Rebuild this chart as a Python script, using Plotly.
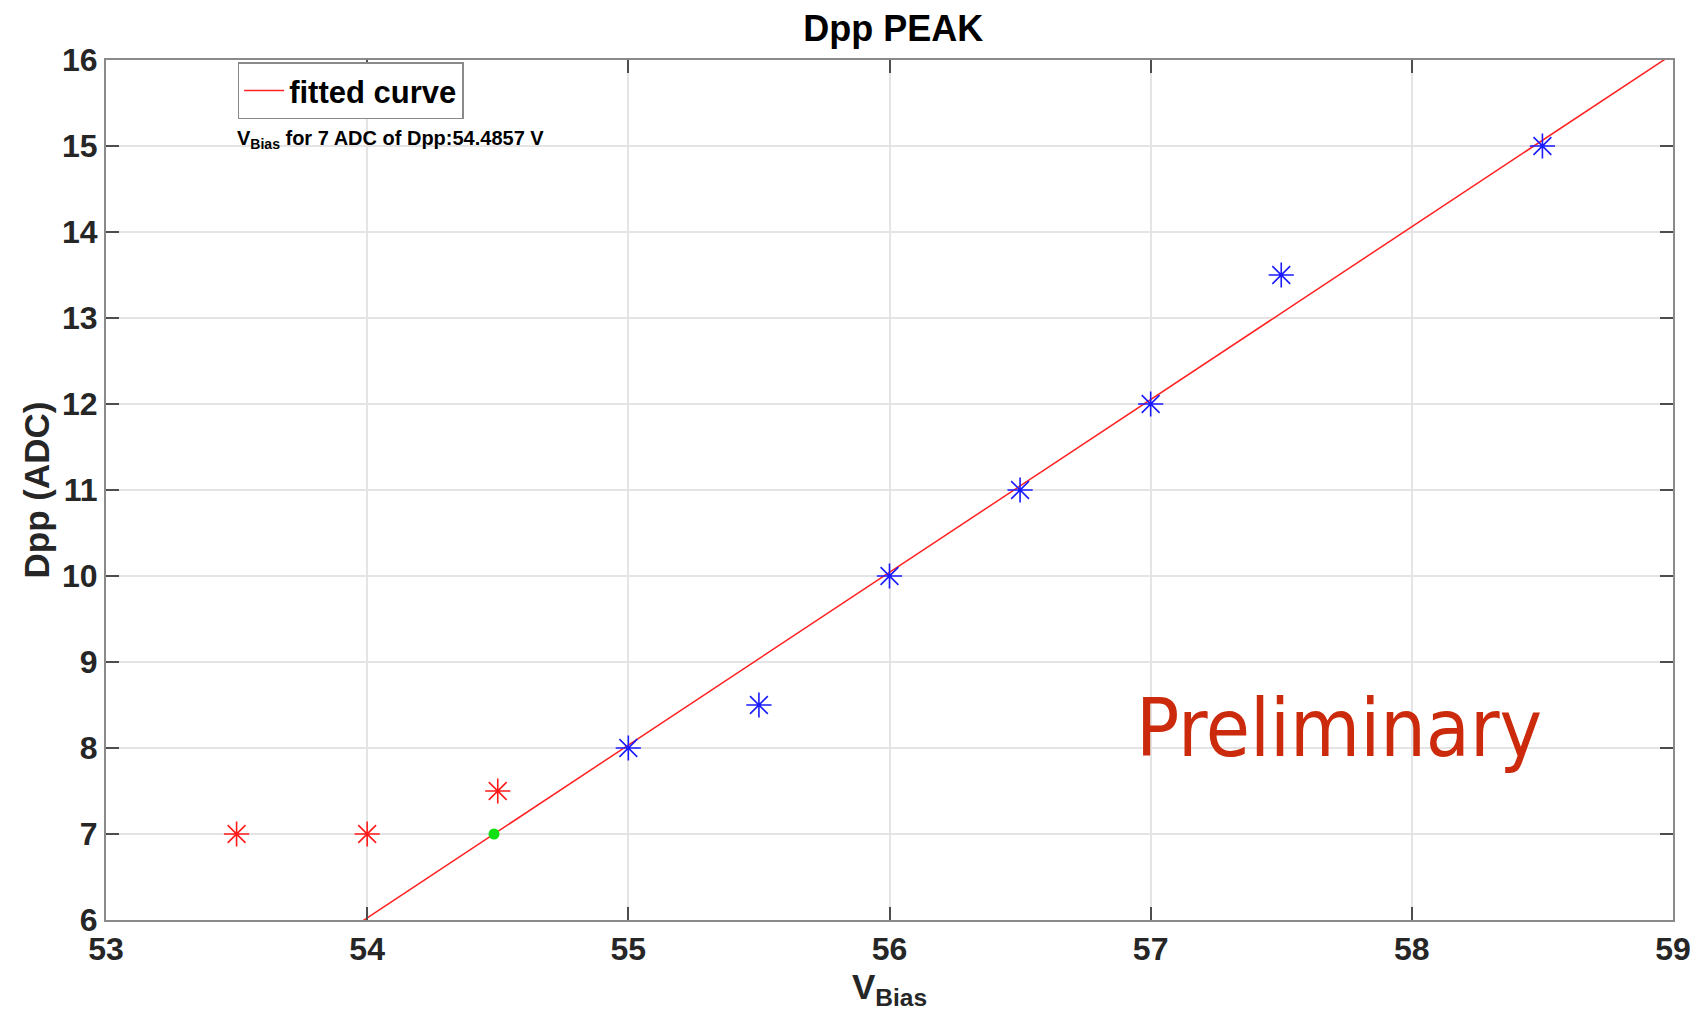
import plotly.graph_objects as go

# Data
red_v = [53.5, 54.0, 54.5]
red_dpp = [7.0, 7.0, 7.5]
blue_v = [55.0, 55.5, 56.0, 56.5, 57.0, 57.5, 58.5]
blue_dpp = [8.0, 8.5, 10.0, 11.0, 12.0, 13.5, 15.0]
fit_slope = 2.0093
fit_v7 = 54.4857
fit_intercept = 7.0 - fit_slope * fit_v7
fit_v = [53.0, 59.0]
fit_dpp = [fit_slope * v + fit_intercept for v in fit_v]
green_v = [fit_v7]
green_dpp = [7.0]
x_ticks = [53, 54, 55, 56, 57, 58, 59]
y_ticks = [6, 7, 8, 9, 10, 11, 12, 13, 14, 15, 16]

FONT = "Liberation Sans, Arial, sans-serif"

fig = go.Figure()
fig.add_trace(go.Scatter(x=fit_v, y=fit_dpp, mode="lines", name="fitted curve",
                         line=dict(color="#ff2020", width=1.5), showlegend=True))
fig.add_trace(go.Scatter(x=red_v, y=red_dpp, mode="markers", showlegend=False,
                         marker=dict(symbol="asterisk-open", size=21, color="#ff1a1a",
                                     line=dict(color="#ff1a1a", width=1.6))))
fig.add_trace(go.Scatter(x=blue_v, y=blue_dpp, mode="markers", showlegend=False,
                         marker=dict(symbol="asterisk-open", size=21, color="#1a1aff",
                                     line=dict(color="#1a1aff", width=1.6))))
fig.add_trace(go.Scatter(x=green_v, y=green_dpp, mode="markers", showlegend=False,
                         marker=dict(symbol="circle", size=11, color="#10e010",
                                     line=dict(width=0))))

axis_common = dict(
    showline=True, linecolor="#8a8a8a", linewidth=2, mirror="ticks",
    ticks="inside", ticklen=13, tickwidth=2, tickcolor="#4d4d4d",
    showgrid=True, gridcolor="#e4e4e4", gridwidth=1.5, zeroline=False,
    tickfont=dict(family=FONT, size=32, color="#262626", weight="bold"),
)

fig.update_layout(
    width=1703, height=1011,
    margin=dict(l=106, r=24, t=60, b=91),
    plot_bgcolor="white", paper_bgcolor="white",
    title=dict(text="<b>Dpp PEAK</b>", x=0.5245, xanchor="center", y=0.972, yanchor="middle",
               font=dict(family=FONT, size=36, color="#000000")),
    xaxis=dict(range=[53, 59], tickvals=x_ticks, **axis_common,
               title=dict(text="<b>V<sub>Bias</sub></b>", standoff=0,
                          font=dict(family=FONT, size=35, color="#262626"))),
    yaxis=dict(range=[6, 16], tickvals=y_ticks, **axis_common,
               title=dict(text="<b>Dpp (ADC)</b>", standoff=2,
                          font=dict(family=FONT, size=35, color="#262626"))),
    legend=dict(x=0.084, y=0.964, xanchor="left", yanchor="middle",
                bgcolor="white", bordercolor="#8a8a8a", borderwidth=1.5,
                font=dict(family=FONT, size=31, color="#000000", weight="bold"),
                itemwidth=40, tracegroupgap=0),
    showlegend=True,
)

fig.add_annotation(x=0.0825, y=0.908, xref="paper", yref="paper", xanchor="left", yanchor="middle",
                   text="<b>V<sub>Bias</sub> for 7 ADC of Dpp:54.4857 V</b>", showarrow=False,
                   font=dict(family=FONT, size=20, color="#000000"))
fig.add_annotation(x=0.7867, y=0.223, xref="paper", yref="paper", xanchor="center", yanchor="middle",
                   text="Preliminary", showarrow=False,
                   font=dict(family="DejaVu Sans Condensed, Liberation Sans, sans-serif",
                             size=80, color="#cc2a0c", weight=300))

fig.write_html("out.html")
